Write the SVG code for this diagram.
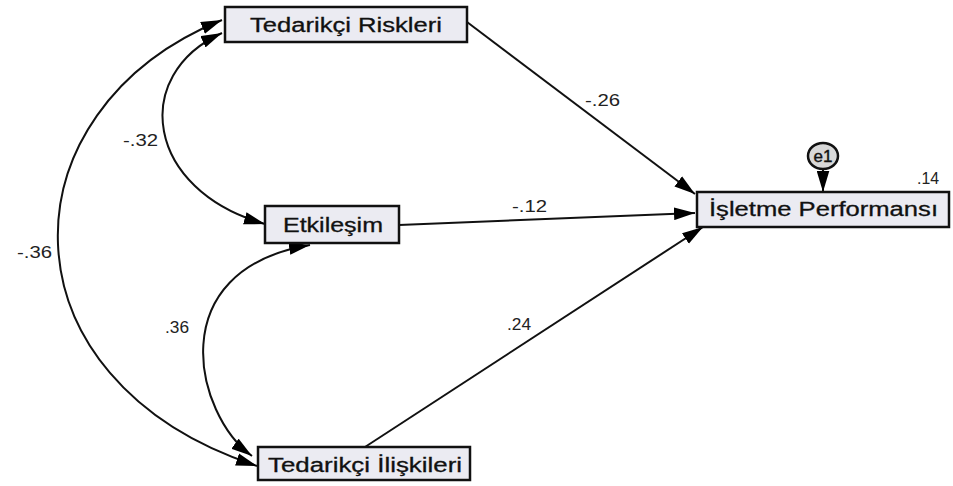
<svg xmlns="http://www.w3.org/2000/svg" width="953" height="486" viewBox="0 0 953 486">
<defs>
<marker id="ah" viewBox="0 0 20 12" refX="20" refY="6" markerWidth="21" markerHeight="13" markerUnits="userSpaceOnUse" orient="auto-start-reverse">
<path d="M0,0 L20,6 L0,12 z" fill="#000"/>
</marker>
<style>
.box{fill:#ebebf2;stroke:#111;stroke-width:2.5}
.lbl{font-family:"Liberation Sans",Arial,sans-serif;font-size:20px;fill:#111;stroke:#111;stroke-width:0.3}
.num{font-family:"Liberation Sans",Arial,sans-serif;font-size:16px;fill:#222}
.con{fill:none;stroke:#111;stroke-width:2}
</style>
</defs>
<rect width="953" height="486" fill="#fff"/>
<g id="connectors">
<path class="con" d="M467,22 L695,194" marker-end="url(#ah)"/>
<path class="con" d="M399,225 L695,213" marker-end="url(#ah)"/>
<path class="con" d="M365,447 L703,227" marker-end="url(#ah)"/>
<path class="con" d="M823,169 L823,192" marker-end="url(#ah)"/>
<path class="con" d="M222,20 C0,110 -5,380 257,466" marker-start="url(#ah)" marker-end="url(#ah)"/>
<path class="con" d="M222,33 C130,75 145,190 265,224" marker-start="url(#ah)" marker-end="url(#ah)"/>
<path class="con" d="M310,245 C160,270 195,415 252,456" marker-start="url(#ah)" marker-end="url(#ah)"/>
<text class="num" x="585" y="106" textLength="35" lengthAdjust="spacingAndGlyphs">-.26</text>
<text class="num" x="512" y="212" textLength="35" lengthAdjust="spacingAndGlyphs">-.12</text>
<text class="num" x="507" y="330" textLength="24" lengthAdjust="spacingAndGlyphs">.24</text>
<text class="num" x="123" y="146" textLength="35" lengthAdjust="spacingAndGlyphs">-.32</text>
<text class="num" x="17" y="258" textLength="35" lengthAdjust="spacingAndGlyphs">-.36</text>
<text class="num" x="165" y="333" textLength="24" lengthAdjust="spacingAndGlyphs">.36</text>
</g>
<g id="tedarikci-riskleri">
<rect class="box" x="225" y="7" width="242" height="35"/>
<text class="lbl" x="250" y="32" textLength="192" lengthAdjust="spacingAndGlyphs">Tedarikçi Riskleri</text>
</g>
<g id="etkilesim">
<rect class="box" x="265" y="206" width="134" height="37"/>
<text class="lbl" x="283" y="232" textLength="100" lengthAdjust="spacingAndGlyphs">Etkileşim</text>
</g>
<g id="tedarikci-iliskileri">
<rect class="box" x="258" y="447" width="212" height="33"/>
<text class="lbl" x="268" y="472" textLength="194" lengthAdjust="spacingAndGlyphs">Tedarikçi İlişkileri</text>
</g>
<g id="isletme-performansi">
<rect class="box" x="697" y="192" width="252" height="35"/>
<text class="lbl" x="709" y="216" textLength="229" lengthAdjust="spacingAndGlyphs">İşletme Performansı</text>
<text class="num" x="917" y="184" textLength="22" lengthAdjust="spacingAndGlyphs">.14</text>
</g>
<g id="e1">
<ellipse cx="823" cy="156" rx="15" ry="13" fill="#d8d8d8" stroke="#111" stroke-width="2.5"/>
<text x="823" y="162" text-anchor="middle" font-family="Liberation Sans, Arial, sans-serif" font-size="17" fill="#111" stroke="#111" stroke-width="0.4">e1</text>
</g>
</svg>
